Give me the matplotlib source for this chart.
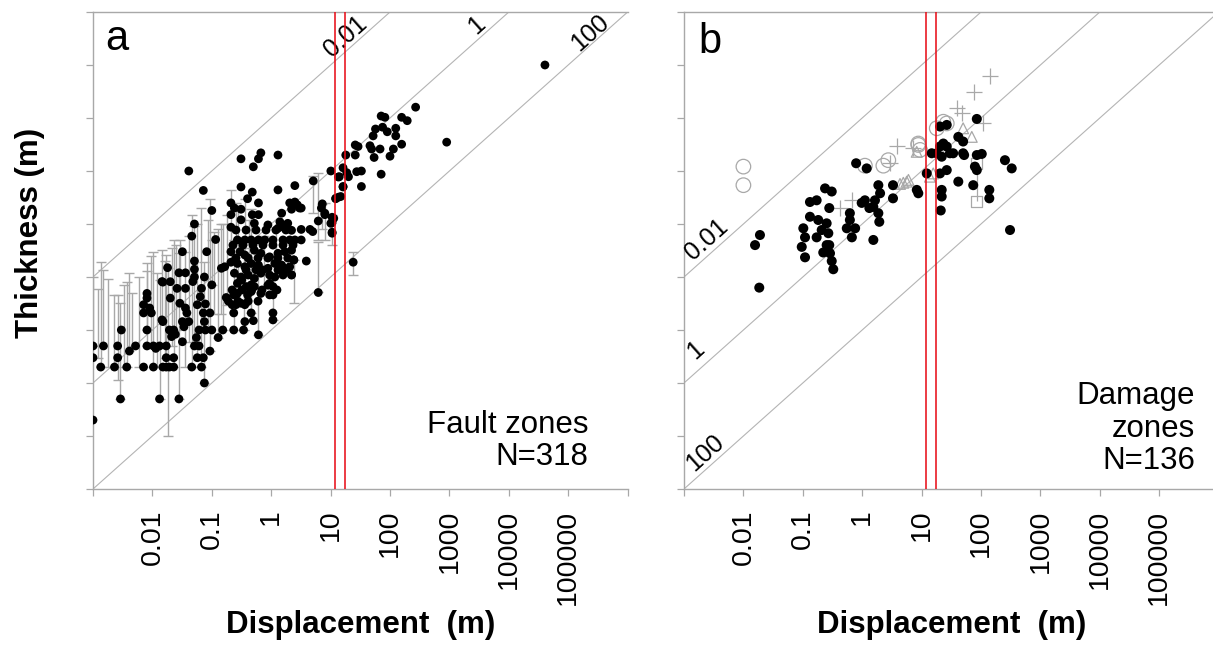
import numpy as np
import matplotlib
matplotlib.use("Agg")
import matplotlib.pyplot as plt
from matplotlib.ticker import FixedLocator, FixedFormatter, NullLocator, NullFormatter

plt.rcParams['font.family'] = ['Liberation Sans', 'DejaVu Sans']

# ---------------- axis set-up ----------------
x_ticks = [1e-3, 1e-2, 1e-1, 1, 10, 100, 1e3, 1e4, 1e5, 1e6]
x_tick_labels = ['', '0.01', '0.1', '1', '10', '100', '1000', '10000', '100000', '']
y_ticks = [1e-5, 1e-4, 1e-3, 1e-2, 1e-1, 1, 10, 100, 1e3, 1e4]
ratio_values = [0.01, 1, 100]          # displacement / thickness
ratio_labels = ['0.01', '1', '100']
red_lines = [12.0, 17.5]

# ---------------- (a) fault zones ----------------
fault_disp = [
    0.041, 0.072, 0.10, 0.31, 0.50, 0.61, 0.67, 1.3, 0.31, 0.48, 1.3, 2.5, 5.1,
    0.21, 0.24, 0.40, 0.61, 0.21, 0.31, 0.31, 0.48, 0.61, 2.05, 2.5, 2.75, 3.0, 2.2,
    0.051, 0.046, 0.116, 0.032, 0.051, 0.051, 0.082, 0.018, 0.028, 0.036, 0.015, 0.051, 0.075, 0.145, 0.165,
    0.52, 0.88, 1.4, 1.5, 1.9, 0.21,
    0.27, 0.36, 0.46, 0.61, 0.78, 1.07, 1.58, 2.05, 2.5,
    0.21, 0.30, 0.36, 0.52, 0.67, 0.94, 1.3, 1.7, 2.2,
    0.21, 0.27, 0.36, 0.46, 0.61, 0.88, 1.15, 1.5, 2.4, 2.05,
    0.24, 0.31, 0.41, 0.52, 0.67, 0.94, 1.15, 1.58, 2.2,
    0.27, 0.38, 0.52, 0.88, 1.07,
    0.255, 0.377, 0.555, 0.817, 1.2, 1.77,
    0.227, 0.335, 0.494, 0.728, 1.07, 1.58, 2.33,
    0.255, 0.41, 0.60, 0.88, 1.3, 1.9,
    0.377, 0.555, 0.72, 1.3, 1.77,
    0.22, 0.32, 0.47, 0.70, 1.25,
    0.19, 0.275, 0.41, 0.60,
    3.9, 2.2, 4.5, 5.0, 6.2, 7.0, 8.0, 10.6, 10.1, 11.3, 10.1, 13.5, 16.2, 16.2, 12.2, 13.5, 2.2, 1.5, 1.3,
    0.001, 0.0029, 0.0132, 0.028, 0.075,
    0.001, 0.0015, 0.0026, 0.0052, 0.0081, 0.0104, 0.0132, 0.0171,
    0.001, 0.0026, 0.0171, 0.0228, 0.057, 0.072,
    0.00135, 0.0023, 0.0037, 0.0071, 0.0104, 0.015, 0.0171, 0.0193, 0.0228, 0.046, 0.067,
    0.0041, 0.003, 0.0081, 0.0193, 0.0228, 0.0243, 0.032, 0.051, 0.061, 0.055, 0.093, 0.128, 0.153,
    0.234, 0.342, 0.078, 0.10, 0.061, 0.61, 6.2, 1.07, 1.07, 0.50, 0.36, 0.234, 0.46,
    0.175, 0.234, 0.27, 0.31, 0.40, 0.46, 0.67, 0.94, 1.07, 0.22, 0.255, 0.36,
    0.32, 0.46, 0.94, 0.10, 0.067, 0.048, 0.036, 0.026, 0.0145,
    0.0081, 0.0081, 0.0071, 0.009, 0.0071, 0.0096, 0.02, 0.015, 0.029, 0.036, 0.038, 0.041,
    0.032, 0.034, 0.057, 0.078, 0.064, 0.072, 0.093, 0.075,
    0.0114, 0.0145, 0.02, 0.021, 2.4, 24.0,
    40600, 900, 270, 71, 82, 157, 195, 57, 52, 75, 90, 125, 125, 157, 114, 100,
    46, 49, 68, 54, 26, 29, 26, 18, 71, 33, 27.5, 33, 18.7, 20, 14, 16.2, 14.8, 12.2,
    7.25, 8.0, 10.6, 10.6, 10.6, 3.2, 3.2, 3.2,
]
fault_thick = [
    10, 4.3, 1.8, 17, 12, 17, 22, 20, 5.0, 4.0, 4.4, 5.3, 6.5,
    2.5, 2.0, 3.0, 2.5, 1.5, 1.9, 1.2, 1.5, 1.5, 2.5, 2.6, 2.3, 2.0, 1.9,
    1.0, 0.59, 0.51, 0.30, 0.20, 0.14, 0.30, 0.15, 0.12, 0.12, 0.08, 0.10, 0.10, 0.146, 0.156,
    1.03, 0.96, 1.1, 0.89, 1.03, 0.87,
    0.5, 0.5, 0.5, 0.5, 0.5, 0.5, 0.5, 0.5, 0.5,
    0.3, 0.3, 0.26, 0.32, 0.28, 0.24, 0.28, 0.3, 0.32,
    0.19, 0.18, 0.156, 0.18, 0.168, 0.146, 0.18, 0.168, 0.21, 0.156,
    0.118, 0.10, 0.109, 0.094, 0.118, 0.109, 0.10, 0.109, 0.109,
    0.076, 0.066, 0.066, 0.07, 0.066,
    0.77, 0.77, 0.77, 0.77, 0.77, 0.77,
    0.40, 0.40, 0.40, 0.40, 0.40, 0.40, 0.40,
    0.228, 0.228, 0.228, 0.228, 0.228, 0.228,
    0.136, 0.136, 0.136, 0.136, 0.136,
    0.057, 0.057, 0.057, 0.057, 0.057,
    0.035, 0.035, 0.035, 0.035,
    0.20, 0.11, 0.79, 0.72, 1.14, 2.0, 1.5, 0.67, 1.03, 1.28, 10, 7.7, 11.5, 5.0, 3.0, 3.2, 0.76, 1.6, 0.83,
    0.0002, 0.0005, 0.0005, 0.0005, 0.001,
    0.005, 0.005, 0.005, 0.005, 0.005, 0.005, 0.005, 0.005,
    0.003, 0.003, 0.003, 0.003, 0.003, 0.003,
    0.002, 0.002, 0.002, 0.002, 0.002, 0.002, 0.002, 0.002, 0.002, 0.002, 0.002,
    0.004, 0.01, 0.01, 0.01, 0.01, 0.0083, 0.006, 0.005, 0.005, 0.0072, 0.004, 0.0072, 0.01,
    0.01, 0.01, 0.01, 0.01, 0.01, 0.0081, 0.051, 0.021, 0.0155, 0.015, 0.0144, 0.021, 0.021,
    0.041, 0.046, 0.049, 0.032, 0.046, 0.053, 0.049, 0.046, 0.046, 0.030, 0.030, 0.030,
    0.088, 0.071, 0.076, 0.071, 0.061, 0.082, 0.061, 0.061, 0.082,
    0.049, 0.040, 0.030, 0.026, 0.021, 0.021, 0.040, 0.0144, 0.032, 0.026, 0.021, 0.0144,
    0.0144, 0.0115, 0.030, 0.031, 0.0425, 0.021, 0.021, 0.0144,
    0.0045, 0.0155, 0.0815, 0.0075, 0.21, 0.19,
    1000, 35, 160, 109, 103, 103, 89, 62, 46, 67, 55, 64, 46, 32, 26, 19,
    30, 26, 26, 18, 31, 29, 20, 20, 8.7, 10, 9.7, 5.1, 9.3, 7.8, 7.8, 5.1, 3.3, 3.05,
    2.4, 1.6, 1.34, 1.06, 0.70, 2.0, 0.79, 0.5,
]

# thickness ranges reported for individual fault zones
range_disp = [0.001, 0.00135, 0.0015, 0.0023, 0.0026, 0.0029, 0.0041, 0.0037, 0.0081, 0.0081,
              0.0132, 0.0104, 0.0184, 0.0171, 0.028, 0.0228, 0.046, 0.057, 0.067, 0.075,
              0.093, 0.10, 0.128, 0.145, 0.153, 0.234, 0.342, 0.21, 0.255, 0.36,
              0.46, 0.61, 1.07, 2.4, 6.2, 24.0, 6.2, 10.6, 5.1, 8.0, 7.25,
              0.0145, 0.029, 0.051,
              0.0012, 0.0018, 0.0033, 0.0045, 0.006, 0.0095, 0.012, 0.016, 0.021, 0.025,
              0.035, 0.042, 0.085, 0.11, 0.18, 0.28, 0.42, 0.75, 1.2]
range_low = [0.005, 0.002, 0.005, 0.002, 0.00114, 0.0005, 0.004, 0.002, 0.01, 0.005,
             0.0005, 0.002, 0.0001, 0.002, 0.0005, 0.002, 0.002, 0.003, 0.002, 0.001,
             0.004, 0.071, 0.0072, 0.02, 0.01, 0.01, 0.01, 0.19, 0.03, 0.03,
             0.021, 0.0081, 0.0155, 0.032, 0.051, 0.109, 0.5, 0.4, 1.6, 0.5, 0.8,
             0.0155, 0.032, 0.005,
             0.003, 0.002, 0.002, 0.005, 0.002, 0.005, 0.002, 0.003, 0.005, 0.01,
             0.002, 0.006, 0.01, 0.02, 0.03, 0.05, 0.1, 0.05, 0.1]
range_high = [0.1, 0.19, 0.136, 0.046, 0.046, 0.032, 0.118, 0.08, 0.18, 0.13,
              0.088, 0.3, 0.15, 0.26, 0.28, 0.5, 1.5, 1.0, 2.0, 0.19,
              3.0, 0.5, 0.8, 1.0, 1.0, 0.5, 0.35, 4.4, 2.5, 3.0,
              1.9, 0.32, 0.1, 0.21, 0.45, 0.3, 9.0, 1.5, 8.0, 2.5, 2.4,
              0.33, 0.5, 0.9,
              0.06, 0.09, 0.07, 0.05, 0.1, 0.25, 0.12, 0.2, 0.35, 0.4,
              0.3, 0.6, 1.2, 0.7, 1.5, 2.0, 1.2, 0.6, 0.8]

# ---------------- (b) damage zones ----------------
damage_disp = [
    0.0157, 0.019, 0.0185, 0.102, 0.109, 0.096, 0.132, 0.171, 0.132, 0.182, 0.208, 0.252, 0.269,
    0.171, 0.252, 0.287, 0.237, 0.307, 0.279, 0.62, 0.62, 0.55, 0.76, 0.67, 0.98, 1.11, 1.32,
    1.54, 1.87, 1.94, 1.54, 1.87, 2.0, 1.64, 0.79, 1.19, 3.3, 3.3, 8.3, 8.8, 12.2, 14.8, 18,
    20.4, 21.8, 21.8, 21, 20.4, 26.5, 23.2, 26.5, 30, 34, 41.5, 50, 41.5, 85, 50, 21.8, 20.4,
    52, 85, 103, 26.5, 79, 85, 74, 138, 138, 253, 329, 308, 0.109, 0.221, 0.279, 0.307, 0.326,
]
damage_thick = [
    0.40, 0.62, 0.063, 0.83, 0.56, 0.37, 2.6, 2.8, 1.37, 1.19, 0.77, 1.03, 0.67,
    0.56, 0.40, 0.28, 4.7, 4.1, 2.0, 1.6, 1.19, 0.83, 0.83, 0.56, 2.5, 2.8, 2.0,
    2.1, 1.6, 1.1, 0.50, 5.4, 3.8, 2.8, 14, 11.2, 5.4, 3.05, 4.4, 3.8, 9.0, 21.6, 21.6,
    9.0, 4.4, 3.3, 1.8, 69, 74, 33, 29, 21.6, 21.6, 44, 21.6, 6.3, 96, 36, 18.6, 29,
    20, 20, 21, 10.4, 12.1, 10.4, 5.4, 4.4, 3.05, 16, 11.2, 0.77, 0.235, 0.29, 0.40, 0.20, 0.14,
]
circle_disp = [0.01, 0.01, 1.11, 2.27, 2.75, 8.8, 9.4, 18, 23.2, 26.5, 8.8]
circle_thick = [12.1, 5.4, 12.6, 12.6, 16, 33, 25, 64, 85, 79, 31]
cross_disp = [0.67, 0.42, 3.8, 7.25, 2.94, 47, 39, 142, 76, 109]
cross_thick = [2.8, 2.0, 29, 27, 14, 125, 155, 620, 313, 81.5]
triangle_disp = [4.33, 4.92, 5.61, 8.27, 13.8, 15.7, 50, 70, 6.0]
triangle_thick = [5.7, 6.0, 6.3, 23, 7.8, 9.0, 64, 44, 6.8]
square_disp = [85, 85]
square_thick = [14, 2.7]

# ---------------- figure ----------------
W, H = 1213, 646
fig = plt.figure(figsize=(W / 100, H / 100), dpi=100)

ax_left, ax_bottom, ax_w, ax_h = 93, 489, 534.6, 477
ax_a = fig.add_axes([ax_left / W, (H - ax_bottom) / H, ax_w / W, ax_h / H])
ax_b = fig.add_axes([684 / W, (H - ax_bottom) / H, ax_w / W, ax_h / H])

grey = '#a8a8a8'
line_grey = '#b4b4b4'
slope_deg = np.degrees(np.arctan((ax_h / 9) / (ax_w / 9)))


def frame(ax):
    ax.set_xscale('log')
    ax.set_yscale('log')
    ax.set_xlim(1e-3, 1e6)
    ax.set_ylim(1e-5, 1e4)
    for s in ax.spines.values():
        s.set_color(grey)
        s.set_linewidth(1.0)
    ax.spines['right'].set_visible(False)
    ax.xaxis.set_major_locator(FixedLocator(x_ticks))
    ax.xaxis.set_major_formatter(FixedFormatter(x_tick_labels))
    ax.xaxis.set_minor_locator(NullLocator())
    ax.yaxis.set_major_locator(FixedLocator(y_ticks))
    ax.yaxis.set_major_formatter(NullFormatter())
    ax.yaxis.set_minor_locator(NullLocator())
    ax.tick_params(axis='both', direction='out', length=4.7, width=0.9, color=grey)
    ax.tick_params(axis='x', labelsize=20.5, labelrotation=90, pad=10)
    d = np.logspace(-3, 6, 50)
    for r in ratio_values:
        ax.plot(d, d / r, color=line_grey, lw=0.8, zorder=1)
    for xv in red_lines:
        ax.axvline(xv, color='#e8101a', lw=1.15, zorder=5)
    ax.text(0.5, -0.285, 'Displacement  (m)', transform=ax.transAxes, ha='center',
            va='center', fontsize=22.5, fontweight='bold')


frame(ax_a)
frame(ax_b)

# panel (a)
lo = np.array(range_low)
hi = np.array(range_high)
ax_a.vlines(range_disp, lo, hi, color=grey, lw=1.0, zorder=2)
ax_a.plot(range_disp, lo, ls='none', marker='_', ms=7, mew=1.0, color=grey, zorder=2)
ax_a.plot(range_disp, hi, ls='none', marker='_', ms=7, mew=1.0, color=grey, zorder=2)
ax_a.scatter(fault_disp, fault_thick, s=40, color='black', edgecolors='none', zorder=3)

label_pos_a = [(17.5, 3370), (2900, 5700), (232000, 4000)]
for (dx, ty), lab in zip(label_pos_a, ratio_labels):
    ax_a.text(dx, ty, lab, rotation=slope_deg, ha='center', va='center', fontsize=18)
ax_a.text(0.022, 0.92, 'a', transform=ax_a.transAxes, fontsize=30, va='baseline')
ax_a.text(0.926, 0.05, 'Fault zones\nN=318', transform=ax_a.transAxes, ha='right',
          va='baseline', fontsize=22.5, linespacing=1.1)

# panel (b)
ax_b.vlines(square_disp[0], square_thick[1], square_thick[0], color=grey, lw=0.9, zorder=2)
ax_b.scatter(circle_disp, circle_thick, s=110, facecolors='none', edgecolors=grey, lw=0.9, zorder=2)
ax_b.scatter(cross_disp, cross_thick, s=120, marker='+', color=grey, lw=0.9, zorder=2)
ax_b.scatter(triangle_disp, triangle_thick, s=60, marker='^', facecolors='none', edgecolors=grey,
             lw=0.9, zorder=2)
ax_b.scatter(square_disp, square_thick, s=60, marker='s', facecolors='none', edgecolors=grey,
             lw=0.9, zorder=2)
ax_b.scatter(damage_disp, damage_thick, s=52, color='black', edgecolors='none', zorder=3)

label_pos_b = [(0.00244, 0.5), (0.00159, 0.0042), (0.00226, 4.8e-5)]
for (dx, ty), lab in zip(label_pos_b, ratio_labels):
    ax_b.text(dx, ty, lab, rotation=slope_deg, ha='center', va='center', fontsize=18)
ax_b.text(0.026, 0.914, 'b', transform=ax_b.transAxes, fontsize=30, va='baseline')
ax_b.text(0.956, 0.042, 'Damage\nzones\nN=136', transform=ax_b.transAxes, ha='right',
          va='baseline', fontsize=22.5, linespacing=1.1)

fig.text(30 / W, (H - 233) / H, 'Thickness (m)', rotation=90, ha='center', va='center',
         fontsize=22.5, fontweight='bold')

fig.savefig('out.png', dpi=100)
